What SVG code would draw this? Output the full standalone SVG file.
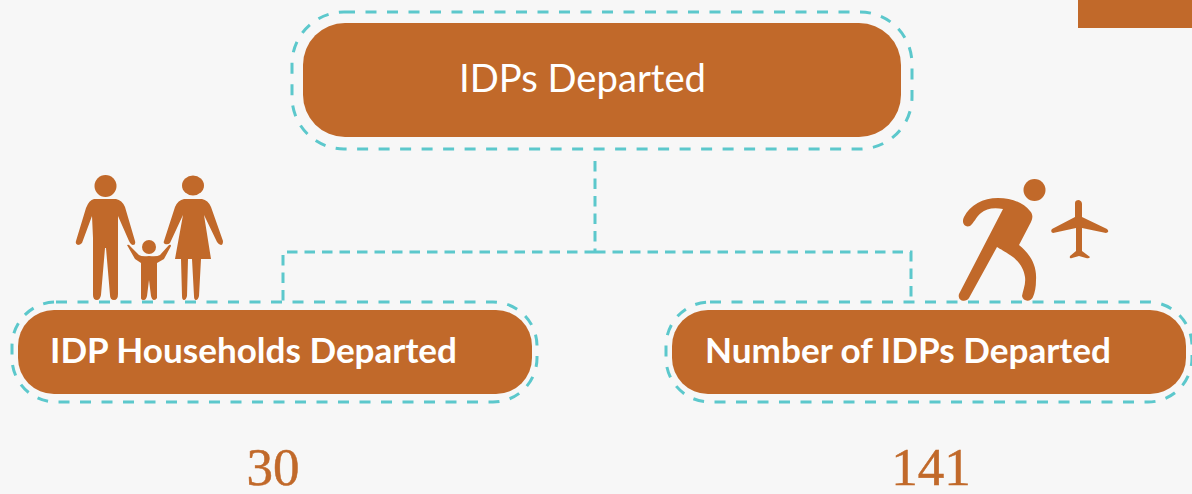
<svg xmlns="http://www.w3.org/2000/svg" width="1192" height="494" viewBox="0 0 1192 494">
<style>
.box{fill:#c1692a}
.halo{fill:none;stroke:#5cc8cc;stroke-width:3;stroke-dasharray:11 10.500}
.line{fill:none;stroke:#5cc8cc;stroke-width:3;stroke-dasharray:10.500 7}
.icon{fill:#c1692a}
.t{font-family:"Lato","Open Sans",sans-serif;fill:#fff}
.tb{font-family:"Lato","Noto Sans",sans-serif;fill:#fff;font-weight:700;font-size:35px}
.n{font-family:"Liberation Serif",serif;fill:#c1692a;font-size:53px;stroke:#c1692a;stroke-width:.5}
</style>
<rect width="1192" height="494" fill="#f7f7f7"/>
<rect x="1078" y="0" width="114" height="28" fill="#c1692a"/>
<g id="connectors">
<path class="line" d="M595 161V251"/>
<path class="line" d="M595 252H283V302"/>
<path class="line" d="M595 252H911V302"/>
</g>
<g id="node-main">
<rect class="halo" x="292" y="12" width="620" height="137" rx="52"/>
<rect class="box" x="303" y="23" width="598" height="114" rx="42"/>
<text class="t" x="459" y="92" font-size="38" textLength="247" lengthAdjust="spacingAndGlyphs">IDPs Departed</text>
</g>
<g id="node-households">
<rect class="halo" x="12" y="302" width="525" height="100" rx="44"/>
<rect class="box" x="18" y="310" width="514" height="84" rx="36"/>
<text class="tb" x="50" y="363" textLength="407" lengthAdjust="spacingAndGlyphs">IDP Households Departed</text>
<text class="n" x="273" y="485" text-anchor="middle">30</text>
</g>
<g id="node-number">
<rect class="halo" x="666" y="302" width="526" height="100" rx="44"/>
<rect class="box" x="672" y="310" width="514" height="84" rx="36"/>
<text class="tb" x="705" y="363" textLength="406" lengthAdjust="spacingAndGlyphs">Number of IDPs Departed</text>
<text class="n" x="931" y="485" text-anchor="middle">141</text>
</g>
<g id="icon-family">
<circle class="icon" cx="105.500" cy="186" r="11"/>
<path class="icon" d="M94 199H116Q122 200 125 207L135 241Q136 245 133 245Q131 245 129 241L118 216V294Q118 300 114 300Q110 300 110 295L106 248H105L101 295Q100 300 97 300Q93 300 93 295V238L92 216L82 243Q80 245 78 245Q75 244 76 241L86 208Q89 200 94 199Z"/>
<ellipse class="icon" cx="193" cy="185.500" rx="11" ry="10"/>
<path class="icon" d="M184 199H202Q208 200 211 207L223 241Q223 245 221 245Q219 245 217 242L204 215L211 259H201L199 296Q198 300 196 300Q194 300 194 296L192 259H188L187 296Q186 300 184 300Q182 300 182 296L181 259H175L183 215L170 243Q168 245 165 244Q163 243 164 241L175 207Q178 200 184 199Z"/>
<circle class="icon" cx="149" cy="247" r="7"/>
<path class="icon" d="M127 245Q129 244 130 246L139 255Q142 257 149 256Q157 257 160 255L169 245Q171 244 171 246L164 259L157 263V298Q156 300 154 300Q152 300 151 296L149 280L147 296Q146 300 144 300Q141 300 141 298V263L135 259Z"/>
</g>
<g id="icon-runner">
<circle class="icon" cx="1034.500" cy="190" r="11"/>
<path class="icon" d="M964 217C970 205 983 198 998 198C1012 198 1024 203 1030 211C1033 214 1033 218 1031 222L1019 245C1030 254 1037 265 1036 280C1036 287 1035 292 1033 297C1031 302 1023 302 1022 296C1023 290 1026 284 1025 277C1024 268 1018 260 1010 255C1006 252 1000 249 997 247L969 298C966 303 957 301 959 294L1003 209C993 207 986 209 981 213C976 217 974 223 970 226C965 228 961 223 964 217Z"/>
<path class="icon" d="M1075 203Q1075 200 1079 200Q1082 201 1082 204V217L1107 229Q1110 232 1106 233L1082 228V251L1090 257Q1089 259 1086 258L1079 256L1072 258Q1069 259 1070 256L1076 251V228L1053 233Q1050 232 1052 229L1075 217Z"/>
</g>
</svg>
